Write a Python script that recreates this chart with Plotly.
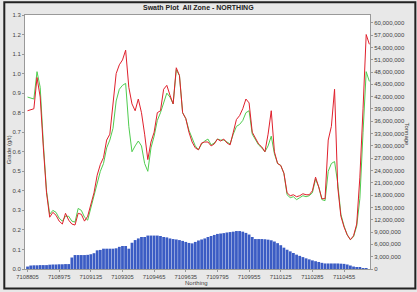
import plotly.graph_objects as go

tick_labels = ["7108805", "7108975", "7109135", "7109305", "7109465", "7109635",
               "7109795", "7109955", "7110125", "7110285", "7110455"]

red_grade = [0.81, 0.815, 0.82, 0.98, 0.88, 0.62, 0.39, 0.265, 0.29, 0.275,
             0.245, 0.23, 0.285, 0.25, 0.23, 0.225, 0.285, 0.28, 0.245, 0.27,
             0.33, 0.39, 0.48, 0.535, 0.57, 0.66, 0.69, 0.83, 1.0, 1.045,
             1.07, 1.12, 0.93, 0.845, 0.81, 0.87, 0.80, 0.69, 0.56, 0.65,
             0.70, 0.80, 0.81, 0.92, 0.94, 0.89, 0.845, 1.03, 0.99, 0.80,
             0.77, 0.70, 0.65, 0.62, 0.61, 0.645, 0.65, 0.65, 0.63, 0.64,
             0.665, 0.655, 0.665, 0.645, 0.635, 0.70, 0.765, 0.785, 0.82, 0.87,
             0.85, 0.70, 0.67, 0.64, 0.625, 0.60, 0.69, 0.81, 0.60, 0.54,
             0.53, 0.49, 0.39, 0.375, 0.38, 0.37, 0.375, 0.385, 0.38, 0.38,
             0.40, 0.47, 0.42, 0.36, 0.36, 0.66, 0.73, 0.92, 0.42, 0.27,
             0.215, 0.175, 0.15, 0.17, 0.23, 0.47, 0.82, 1.20, 1.15]

green_grade = [0.88, 0.875, 0.87, 1.01, 0.93, 0.64, 0.40, 0.28, 0.30, 0.29,
               0.26, 0.245, 0.27, 0.27, 0.245, 0.24, 0.31, 0.30, 0.265, 0.25,
               0.31, 0.37, 0.44, 0.50, 0.54, 0.62, 0.66, 0.72, 0.86, 0.92,
               0.94, 0.95, 0.73, 0.60, 0.63, 0.655, 0.63, 0.54, 0.50, 0.62,
               0.68, 0.76, 0.80, 0.85, 0.90, 0.88, 0.845, 1.02, 0.99, 0.80,
               0.77, 0.71, 0.67, 0.63, 0.61, 0.64, 0.655, 0.665, 0.635, 0.645,
               0.665, 0.66, 0.66, 0.65, 0.64, 0.69, 0.73, 0.74, 0.76, 0.80,
               0.81, 0.69, 0.66, 0.635, 0.62, 0.60, 0.63, 0.68, 0.59, 0.54,
               0.53, 0.49, 0.38, 0.365, 0.37, 0.355, 0.365, 0.375, 0.37, 0.375,
               0.39, 0.46, 0.42, 0.355, 0.35, 0.50, 0.54, 0.55, 0.44, 0.28,
               0.22, 0.175, 0.15, 0.165, 0.22, 0.36, 0.70, 1.01, 0.96]

tonnage = [0.6, 0.85, 0.9, 0.9, 0.95, 0.95, 0.95, 1.05, 1.1, 1.1,
           1.15, 1.15, 1.2, 1.2, 2.8, 3.4, 3.4, 3.4, 3.4, 3.45,
           3.6, 3.85, 4.55, 4.65, 4.95, 4.95, 4.95, 4.95, 5.05, 5.4,
           5.6, 5.6, 4.95, 6.4, 7.05, 7.45, 7.8, 7.8, 8.15, 8.15,
           8.15, 8.15, 8.05, 7.8, 7.7, 7.45, 7.3, 7.2, 7.05, 6.85,
           6.6, 6.35, 6.25, 6.6, 6.95, 7.2, 7.45, 7.8, 8.05, 8.3,
           8.55, 8.65, 8.75, 8.9, 9.0, 9.1, 9.25, 9.25, 9.1, 8.8,
           8.4, 7.8, 7.3, 7.3, 7.3, 7.25, 7.15, 7.0, 6.7, 6.3,
           5.8, 5.2, 4.7, 4.3, 3.9, 3.5, 3.2, 2.9, 2.6, 2.35,
           2.1, 1.9, 1.7, 1.5, 1.35, 1.35, 1.35, 1.35, 1.35, 1.3,
           1.25, 1.1, 0.85, 0.6, 0.45, 0.3, 0.15, 0.05, 0.0]
tonnage = [t * 1e6 for t in tonnage]

idx = list(range(len(red_grade)))

FONT = "Liberation Sans, Arial, sans-serif"
TICKC = "#444444"

fig = go.Figure()
fig.add_trace(go.Bar(x=idx, y=tonnage, yaxis="y", marker=dict(color="#3b5cc4", line=dict(width=0)),
                     showlegend=False))
fig.add_trace(go.Scatter(x=idx, y=green_grade, yaxis="y2", mode="lines",
                         line=dict(color="#4fcc4f", width=1), showlegend=False))
fig.add_trace(go.Scatter(x=idx, y=red_grade, yaxis="y2", mode="lines",
                         line=dict(color="#e0202c", width=1), showlegend=False))

pw, ph = 350, 259
ml, mr, mt, mb = 21, 46, 13, 20

fig.update_layout(
    width=417, height=292,
    margin=dict(l=ml, r=mr, t=mt, b=mb, pad=0),
    paper_bgcolor="#e8e8e8", plot_bgcolor="#ffffff",
    bargap=0.12,
    font=dict(family=FONT, size=6, color=TICKC),
    xaxis=dict(range=[-0.8, 108.2], tickmode="array",
               tickvals=list(range(0, 101, 10)), ticktext=tick_labels,
               showgrid=False, zeroline=False, showline=True, linecolor="#999999",
               linewidth=1, mirror=True, ticks="outside", ticklen=2, tickcolor="#999999",
               tickfont=dict(size=5.8, color=TICKC)),
    yaxis=dict(range=[0, 61.9e6], side="right", tickmode="array",
               tickvals=[i * 3e6 for i in range(21)], tickformat=",d",
               showgrid=False, zeroline=False, showline=True, linecolor="#999999",
               ticks="outside", ticklen=2, tickcolor="#999999",
               tickfont=dict(size=6, color=TICKC)),
    yaxis2=dict(range=[0, 1.3], side="left", overlaying="y", tickmode="array",
                tickvals=[i / 10 for i in range(14)], tickformat=".1f",
                showgrid=False, zeroline=False, showline=True, linecolor="#999999",
                ticks="outside", ticklen=2, tickcolor="#999999",
                tickfont=dict(size=6, color=TICKC)),
    shapes=[dict(type="rect", xref="paper", yref="paper",
                 x0=-ml / pw, x1=1 + mr / pw, y0=-mb / ph, y1=1 + mt / ph,
                 line=dict(color="#222222", width=2), fillcolor="rgba(0,0,0,0)")],
    annotations=[
        dict(text="<b>Swath Plot  All Zone - NORTHING</b>", xref="paper", yref="paper",
             x=(197 - ml) / pw, y=1 + 7.5 / ph, showarrow=False,
             font=dict(size=7, color="#222222"), xanchor="center", yanchor="middle"),
        dict(text="Grade (g/t)", xref="paper", yref="paper", x=-16.5 / pw, y=0.47,
             textangle=-90, showarrow=False, font=dict(size=6, color=TICKC),
             xanchor="center", yanchor="middle"),
        dict(text="Tonnage", xref="paper", yref="paper", x=1 + 37.5 / pw, y=0.53,
             textangle=90, showarrow=False, font=dict(size=6, color=TICKC),
             xanchor="center", yanchor="middle"),
        dict(text="Northing", xref="paper", yref="paper", x=(195 - ml) / pw, y=-14.5 / ph,
             showarrow=False, font=dict(size=6, color=TICKC),
             xanchor="center", yanchor="middle"),
    ],
)

fig.write_html("out.html")
